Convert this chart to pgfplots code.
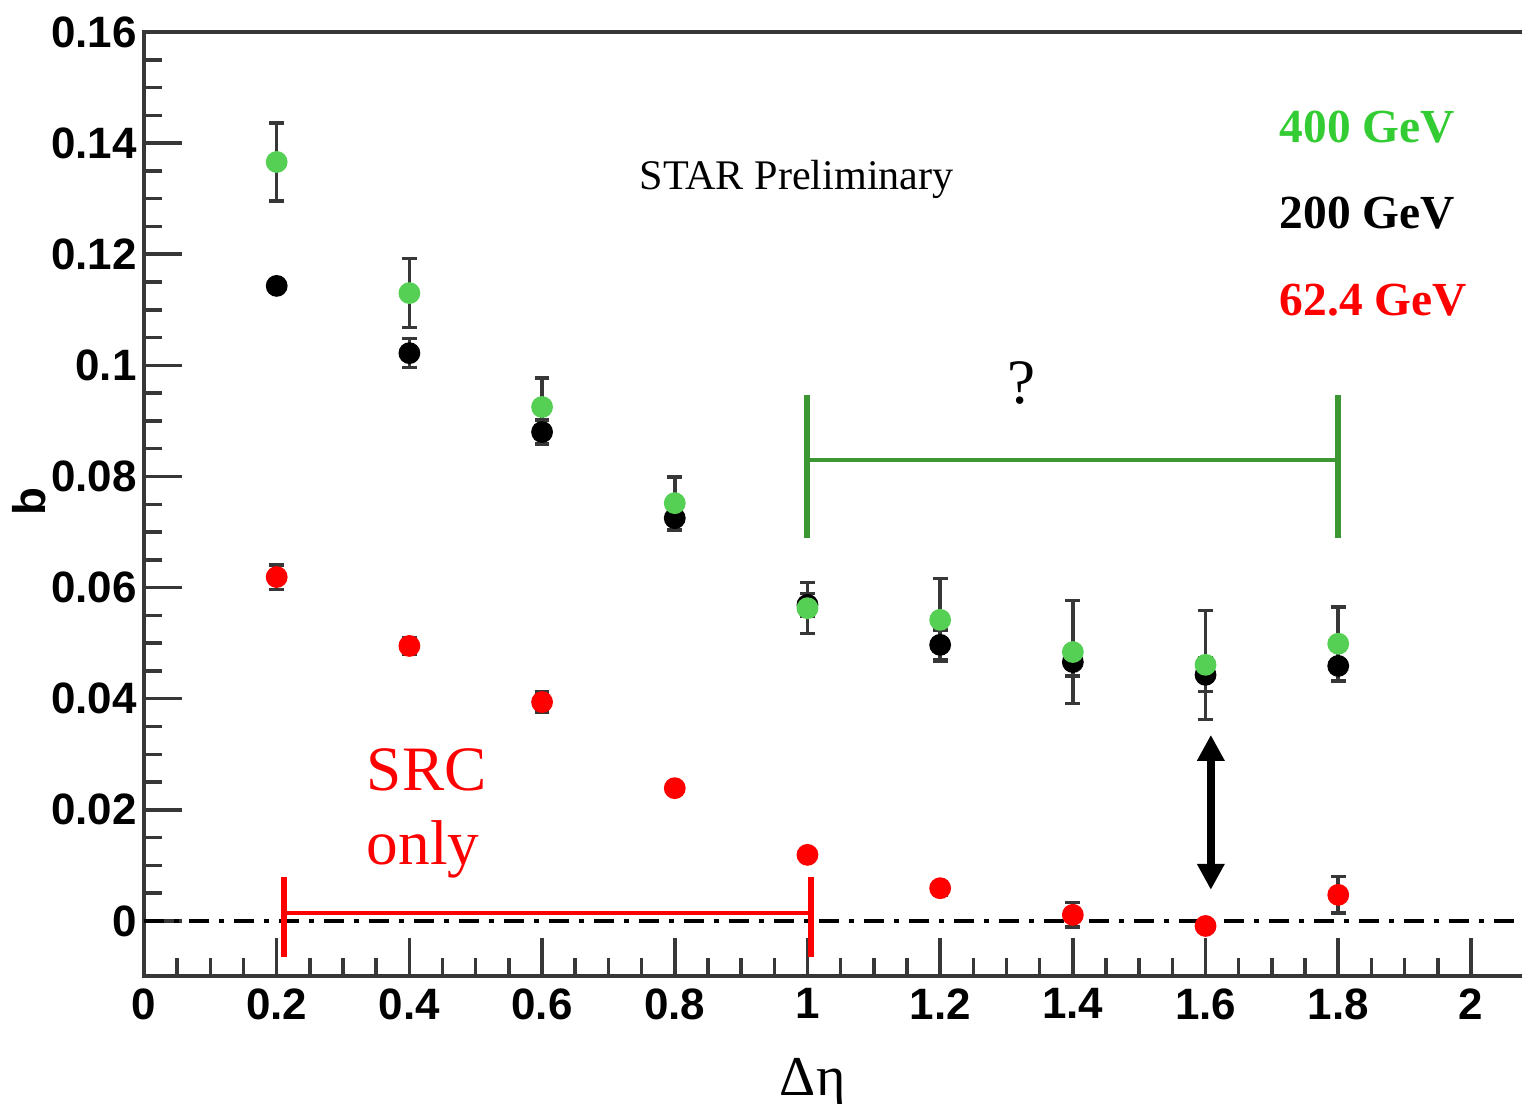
\documentclass[border=0pt]{standalone}
\usepackage{fontspec}
\setmainfont{Liberation Serif}
\setsansfont{Liberation Sans}
\usepackage{pgfplots}
\usepackage{pgfplotstable}
\pgfplotsset{compat=1.18}
\usetikzlibrary{arrows.meta}

\definecolor{ptgreen}{RGB}{85,208,85}
\definecolor{txtgreen}{RGB}{51,204,51}
\definecolor{brgreen}{RGB}{60,150,50}
\definecolor{axgray}{RGB}{55,55,55}

% x  b  err
\pgfplotstableread{
x    y       e
0.2  0.1366  0.0070
0.4  0.1130  0.0062
0.6  0.0925  0.0052
0.8  0.0752  0.0047
1.0  0.0563  0.0046
1.2  0.0542  0.0074
1.4  0.0484  0.0093
1.6  0.0461  0.0098
1.8  0.0499  0.0066
}\gevfourhundred
\pgfplotstableread{
x    y       e
0.2  0.1143  0.0010
0.4  0.1022  0.0026
0.6  0.0880  0.0022
0.8  0.0725  0.0022
1.0  0.0569  0.0020
1.2  0.0497  0.0027
1.4  0.0466  0.0025
1.6  0.0443  0.0030
1.8  0.0459  0.0028
}\gevtwohundred
\pgfplotstableread{
x    y        e
0.2  0.0619   0.0022
0.4  0.0495   0.0015
0.6  0.0394   0.0018
0.8  0.0239   0.0008
1.0  0.0119   0.0008
1.2  0.0059   0.0012
1.4  0.0011   0.0022
1.6  -0.0009  0.0008
1.8  0.0047   0.0033
}\gevsixtytwo

\begin{document}
\begin{tikzpicture}
\begin{axis}[
  scale only axis, width=13.78cm, height=9.44cm,
  xmin=0, xmax=2.077, ymin=-0.0099, ymax=0.16,
  clip=false,
  axis line style={draw=none},
  tick align=inside, xtick pos=bottom, ytick pos=left,
  xtick={0,0.2,...,2.01}, ytick={0,0.02,...,0.161},
  minor x tick num=3, minor y tick num=3,
  major tick length=0.38cm, minor tick length=0.18cm,
  every tick/.style={axgray, line width=1pt},
  scaled y ticks=false,
  /pgf/number format/assume math mode=true,
  tick label style={font=\fontsize{12.5}{14}\selectfont\sffamily\bfseries},
  yticklabel style={/pgf/number format/fixed, /pgf/number format/precision=2, xshift=0.05cm},
  xticklabel style={/pgf/number format/fixed, /pgf/number format/precision=1},
  error bars/error bar style={axgray, line width=1pt},
  error bars/error mark options={rotate=90, mark size=2.1pt, line width=1pt, axgray},
]
% frame: left, top, bottom (right edge is cut off)
\draw[axgray, line width=1.4pt] (rel axis cs:1,1) -- (rel axis cs:0,1) -- (rel axis cs:0,0) -- (rel axis cs:1,0);
\coordinate (bl) at (rel axis cs:0,0);
\coordinate (tr) at (rel axis cs:1,1);

% zero line
\draw[black, line width=0.9pt, dash pattern=on 0.2cm off 0.1cm on 0.05cm off 0.1cm]
  (axis cs:0,0) -- (axis cs:2.077,0);

\addplot[only marks, mark=*, mark size=2.9pt, red, mark options={draw=red, fill=red},
  error bars/.cd, y dir=both, y explicit] table[x=x, y=y, y error=e] {\gevsixtytwo};
\addplot[only marks, mark=*, mark size=2.9pt, black, mark options={draw=black, fill=black},
  error bars/.cd, y dir=both, y explicit] table[x=x, y=y, y error=e] {\gevtwohundred};
\addplot[only marks, mark=*, mark size=2.9pt, ptgreen, mark options={draw=ptgreen, fill=ptgreen},
  error bars/.cd, y dir=both, y explicit] table[x=x, y=y, y error=e] {\gevfourhundred};

% green bracket
\draw[brgreen, line width=1.7pt] (axis cs:1.0,0.0947) -- (axis cs:1.0,0.0689);
\draw[brgreen, line width=1.7pt] (axis cs:1.8,0.0947) -- (axis cs:1.8,0.0689);
\draw[brgreen, line width=1pt] (axis cs:1.0,0.0830) -- (axis cs:1.8,0.0830);
\node[font=\fontsize{18}{20}\selectfont] at (axis cs:1.322,0.0968) {?};

% red bracket
\draw[red, line width=1.7pt] (axis cs:0.211,0.0079) -- (axis cs:0.211,-0.0065);
\draw[red, line width=1.7pt] (axis cs:1.005,0.0079) -- (axis cs:1.005,-0.0065);
\draw[red, line width=1pt] (axis cs:0.211,0.0014) -- (axis cs:1.005,0.0014);
\node[red, anchor=west, align=left, inner sep=0pt, font=\fontsize{18}{21}\selectfont]
  at (axis cs:0.335,0.0194) {SRC\\only};

% double arrow
\draw[black, line width=2.2pt, {Triangle[width=0.26cm,length=0.26cm]}-{Triangle[width=0.26cm,length=0.26cm]}]
  (axis cs:1.608,0.0335) -- (axis cs:1.608,0.0056);

% texts
\node[anchor=west, inner sep=0pt, font=\fontsize{12}{14}\selectfont] at (axis cs:0.746,0.1335) {STAR Preliminary};
\node[anchor=west, inner sep=0pt, txtgreen, font=\fontsize{13.5}{16}\selectfont\bfseries] at (axis cs:1.711,0.1429) {400 GeV};
\node[anchor=west, inner sep=0pt, black, font=\fontsize{13.5}{16}\selectfont\bfseries] at (axis cs:1.711,0.1274) {200 GeV};
\node[anchor=west, inner sep=0pt, red, font=\fontsize{13.5}{16}\selectfont\bfseries] at (axis cs:1.711,0.1118) {62.4 GeV};

% axis labels
\node[rotate=90, font=\fontsize{13}{15}\selectfont\sffamily\bfseries] at (axis cs:-0.173,0.0755) {b};
\node[font=\fontsize{16}{18}\selectfont] at (axis cs:1.008,-0.0292) {Δη};
\end{axis}
\pgfresetboundingbox
\path ([shift={(-1.44cm,-1.28cm)}]bl) rectangle ([shift={(0cm,0.32cm)}]tr);
\end{tikzpicture}
\end{document}
